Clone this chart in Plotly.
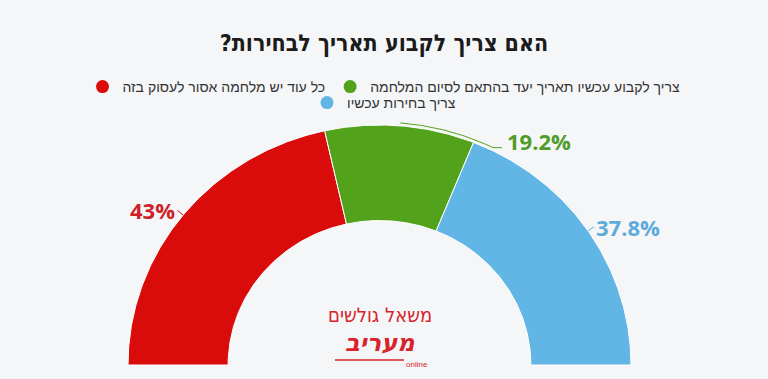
import numpy as np
import plotly.graph_objects as go

# ---------------- data ----------------
categories = [
    "כל עוד יש מלחמה אסור לעסוק בזה",
    "צריך לקבוע עכשיו תאריך יעד בהתאם לסיום המלחמה",
    "צריך בחירות עכשיו",
]
values = [43, 19.2, 37.8]
value_labels = ["43%", "19.2%", "37.8%"]
title_text = "האם צריך לקבוע תאריך לבחירות?"
logo_line1 = "משאל גולשים"
logo_line2 = "מעריב"
logo_line3 = "online"

# ---------------- style ----------------
slice_colors = ["#da0b0b", "#52a31b", "#62b6e5"]
label_colors = ["#cf1f29", "#4f9c29", "#5eabd9"]
BG = "#f5f6f8"
W, H = 768, 379
CX, CY = 379.5, 365.0      # centre of the semi-donut (px)
RX, RY = 251.5, 240.0      # outer radii (px)
HOLE = 0.602


def pt(r, phi_deg):
    """point on the semi-donut: phi measured from the left, clockwise over the top"""
    phi = np.radians(phi_deg)
    return -r * np.cos(phi), r * np.sin(phi)


def paper(px, py):
    return px / W, 1 - py / H


total = float(sum(values))
edges = np.concatenate([[0], np.cumsum(values)]) / total * 180.0
mids = (edges[:-1] + edges[1:]) / 2

fig = go.Figure()

# slices
for i, cat in enumerate(categories):
    phis = np.linspace(edges[i], edges[i + 1], 160)
    xo, yo = pt(1.0, phis)
    xi, yi = pt(HOLE, phis[::-1])
    xs = np.concatenate([xo, xi, xo[:1]])
    ys = np.concatenate([yo, yi, yo[:1]])
    fig.add_trace(go.Scatter(
        x=xs, y=ys, mode="lines", fill="toself",
        fillcolor=slice_colors[i], line=dict(color="#ffffff", width=1),
        hoverinfo="skip", showlegend=False,
    ))

# legend entries (circles)
for i, cat in enumerate(categories):
    fig.add_trace(go.Scatter(
        x=[None], y=[None], mode="markers", name=cat,
        marker=dict(size=13, color=slice_colors[i], symbol="circle"),
        legend="legend" if i < 2 else "legend2",
    ))

annotations = []
label_font = dict(family="Open Sans, Liberation Sans, Arial", size=22)

# data labels + connectors
for i in range(len(values)):
    m = mids[i]
    if i == 1:
        # crooked connector hugging the top, moving the label to the right
        arc = np.linspace(m, 116.5, 60)
        ax, ay = pt(1.012, arc)
        ex, ey = ax[-1] + 0.035, ay[-1]
        cx = np.concatenate([ax, [ex]])
        cy = np.concatenate([ay, [ey]])
        lx, ly, anchor = ex + 0.012, ey + 0.026, "left"
    else:
        cx, cy = pt(np.array([1.0, 1.03]), np.array([m, m]))
        lx, ly = pt(1.03, m)
        anchor = "right" if m < 90 else "left"
    fig.add_trace(go.Scatter(
        x=cx, y=cy, mode="lines", line=dict(color=slice_colors[i], width=1),
        hoverinfo="skip", showlegend=False,
    ))
    annotations.append(dict(
        x=lx, y=ly, xref="x", yref="y", text="<b>" + value_labels[i] + "</b>",
        showarrow=False, xanchor=anchor, yanchor="middle",
        font=dict(color=label_colors[i], **label_font),
    ))

# logo
lx1, ly1 = paper(380, 315)
annotations.append(dict(
    x=lx1, y=ly1, xref="paper", yref="paper", text=logo_line1, showarrow=False,
    xanchor="center", yanchor="middle",
    font=dict(family="DejaVu Sans Condensed", size=20, color="#d8232a"),
))
lx2, ly2 = paper(380, 343)
annotations.append(dict(
    x=lx2, y=ly2, xref="paper", yref="paper", text="<b><i>" + logo_line2 + "</i></b>",
    showarrow=False, xanchor="center", yanchor="middle",
    font=dict(family="DejaVu Sans", size=24, color="#d8232a"),
))
lx3, ly3 = paper(417, 364)
annotations.append(dict(
    x=lx3, y=ly3, xref="paper", yref="paper", text=logo_line3, showarrow=False,
    xanchor="center", yanchor="middle",
    font=dict(family="Liberation Sans, Arial", size=8, color="#d8232a"),
))
sx0, sy = paper(335, 360)
sx1, _ = paper(404, 360)

fig.update_layout(
    width=W, height=H,
    margin=dict(l=0, r=0, t=0, b=0),
    paper_bgcolor=BG, plot_bgcolor=BG,
    title=dict(
        text="<b>" + title_text + "\u200f</b>",
        x=0.5, xanchor="center", y=1 - 43 / H, yanchor="middle", yref="container",
        font=dict(family="DejaVu Sans Condensed", size=23, color="#1b1b1b"),
    ),
    xaxis=dict(visible=False, range=[-CX / RX, (W - CX) / RX], fixedrange=True),
    yaxis=dict(visible=False, range=[-(H - CY) / RY, CY / RY], fixedrange=True),
    legend=dict(
        orientation="h", x=0.5, xanchor="center", y=1 - 87 / H, yanchor="middle",
        font=dict(family="Liberation Sans, Arial", size=14, color="#333333"),
        bgcolor="rgba(0,0,0,0)",
    ),
    legend2=dict(
        orientation="h", x=0.5, xanchor="center", y=1 - 103 / H, yanchor="middle",
        font=dict(family="Liberation Sans, Arial", size=14, color="#333333"),
        bgcolor="rgba(0,0,0,0)",
    ),
    annotations=annotations,
    shapes=[dict(type="line", xref="paper", yref="paper", x0=sx0, x1=sx1, y0=sy, y1=sy,
                 line=dict(color="#d8232a", width=1.5))],
    showlegend=True,
)

fig.write_html(
    "out.html",
    config={"displayModeBar": False},
    post_script="document.body.style.margin='0px';document.body.style.overflow='hidden';",
)
